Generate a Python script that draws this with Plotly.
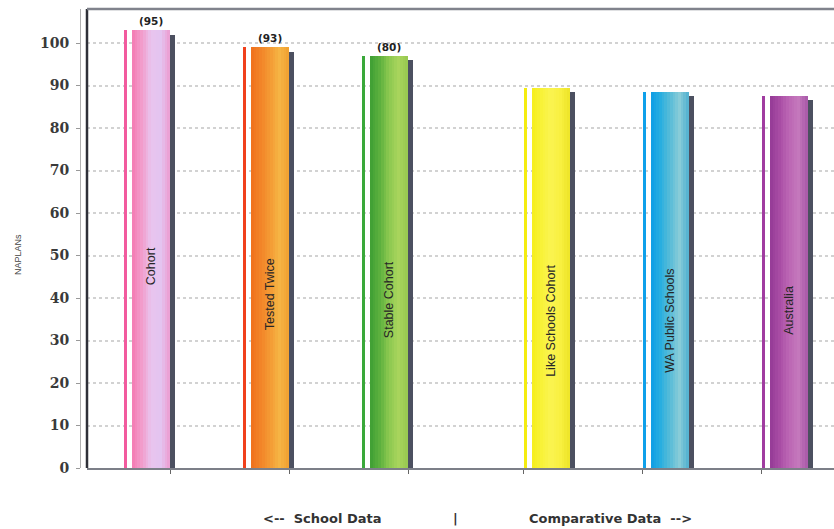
import plotly.graph_objects as go

# NAPLAN cohort comparison data
categories = ["Cohort", "Tested Twice", "Stable Cohort",
              "Like Schools Cohort", "WA Public Schools", "Australia"]
naplan_values = [103, 99, 97, 89.5, 88.5, 87.5]
student_counts = [95, 93, 80, None, None, None]
y_ticks = [0, 10, 20, 30, 40, 50, 60, 70, 80, 90, 100]

# --- styling -------------------------------------------------------------
edge_colors = ["#f25a9e", "#f0401c", "#3aa83a", "#f4ec10", "#0ea0ea", "#a03ca0"]
gradient_stops = [
    ["#f47ab2", "#f29ccb", "#e9c4ee", "#e4c4f0", "#ec9cd0"],
    ["#f0701c", "#f28428", "#f49a34", "#f6b444", "#f0a030"],
    ["#3e9e34", "#5cb03e", "#8cc850", "#a8d45c", "#98c850"],
    ["#f6ee1c", "#f8f238", "#faf450", "#f8f040", "#eee428"],
    ["#0e9ee6", "#28aee0", "#58bcd8", "#88ccd8", "#50b0d0"],
    ["#943a96", "#a84ca4", "#bc66b4", "#c478bc", "#a858a8"],
]
shadow_color = "#4c5060"
label_mid = [47.5, 40.9, 39.5, 34.6, 34.6, 37.2]   # vertical centre of in-bar text

GAP = 0.36          # extra space between school and comparative groups
slots = [i + (GAP if i >= 3 else 0) for i in range(len(categories))]

EDGE_C, EDGE_W = 0.0126, 0.025
BODY_L, BODY_R = 0.067, 0.387
SHADOW_C, SHADOW_W = 0.408, 0.042
N_STRIPS = 14


def hex_rgb(h):
    h = h.lstrip("#")
    return [int(h[i:i + 2], 16) for i in (0, 2, 4)]


def blend(stops, t):
    seg = t * (len(stops) - 1)
    i = min(int(seg), len(stops) - 2)
    f = seg - i
    a, b = hex_rgb(stops[i]), hex_rgb(stops[i + 1])
    return "rgb(%d,%d,%d)" % tuple(round(a[k] + (b[k] - a[k]) * f) for k in range(3))


fig = go.Figure()

# thin highlight strip on the left of each bar
fig.add_trace(go.Bar(
    x=[s + EDGE_C for s in slots], y=naplan_values, width=EDGE_W,
    marker=dict(color=edge_colors, line=dict(width=0)), hoverinfo="skip",
    showlegend=False))

# gradient body made from narrow vertical strips
strip_w = (BODY_R - BODY_L) / N_STRIPS
for k in range(N_STRIPS):
    t = (k + 0.5) / N_STRIPS
    fig.add_trace(go.Bar(
        x=[s + BODY_L + strip_w * (k + 0.5) for s in slots], y=naplan_values,
        width=strip_w * 1.04,
        marker=dict(color=[blend(st, t) for st in gradient_stops], line=dict(width=0)),
        hoverinfo="skip", showlegend=False))

# dark side face
fig.add_trace(go.Bar(
    x=[s + SHADOW_C for s in slots], y=[v - 1.0 for v in naplan_values],
    width=SHADOW_W, marker=dict(color=shadow_color, line=dict(width=0)),
    hoverinfo="skip", showlegend=False))

# category names written up the bars
for s, name, ym in zip(slots, categories, label_mid):
    fig.add_annotation(x=s + (BODY_L + BODY_R) / 2, y=ym, text=name, textangle=-90,
                       showarrow=False, font=dict(family="Liberation Sans", size=12.5,
                                                  color="#262626"))

# student counts above the school bars
for s, v, n in zip(slots, naplan_values, student_counts):
    if n is None:
        continue
    fig.add_annotation(x=s + (BODY_L + BODY_R) / 2, y=v, yshift=9, text="(%d)" % n,
                       showarrow=False, font=dict(family="DejaVu Sans", size=10.5,
                                                  color="#222", weight="bold"))

# axis tick marks along the base line
x_tick_pos = [s + (BODY_R if i < 3 else 0) for i, s in enumerate(slots)]

L_MARGIN, PLOT_W = 80, 754
x_dom0 = 7 / PLOT_W

fig.update_layout(
    width=834, height=529,
    margin=dict(l=L_MARGIN, r=0, t=9, b=61),
    paper_bgcolor="white", plot_bgcolor="white",
    barmode="overlay", bargap=0,
    xaxis=dict(domain=[x_dom0, 1], range=[-0.311, 5.966], showgrid=False,
               zeroline=False, showline=True, linecolor="#7c7f88", linewidth=2,
               tickmode="array", tickvals=x_tick_pos, ticktext=[""] * len(x_tick_pos),
               ticks="outside", ticklen=4, tickcolor="#666", tickwidth=1),
    yaxis=dict(range=[0, 108], anchor="free", position=0,
               tickmode="array", tickvals=y_ticks,
               showgrid=True, gridcolor="#d2d2d2", griddash="dot", gridwidth=1.5,
               zeroline=False, showline=True, linecolor="#b0b0b0", linewidth=1,
               ticks="outside", ticklen=4, tickcolor="#999",
               ticklabelstandoff=4,
               tickfont=dict(family="DejaVu Serif", size=14, color="#3a3a3a",
                             weight="bold")),
)

# chart frame: dark left edge, grey top edge
fig.add_shape(type="line", xref="paper", yref="paper", x0=x_dom0, x1=x_dom0,
              y0=0, y1=1, line=dict(color="#2e3038", width=2.5))
fig.add_shape(type="line", xref="paper", yref="paper", x0=x_dom0, x1=1,
              y0=1, y1=1, line=dict(color="#80838c", width=2.5))

# axis title and group captions
fig.add_annotation(xref="paper", yref="paper", x=(18 - L_MARGIN) / PLOT_W, y=0.464,
                   xanchor="center", yanchor="middle",
                   text="NAPLANs", textangle=-90, showarrow=False,
                   font=dict(family="Liberation Sans", size=9, color="#444"))
caption_font = dict(family="DejaVu Sans", size=13, color="#333", weight="bold")
for cx, txt in [(322, "&lt;--  School Data"), (455, "|"),
                (610, "Comparative Data  --&gt;")]:
    fig.add_annotation(xref="paper", yref="paper", x=(cx - L_MARGIN) / PLOT_W,
                       y=-0.111, xanchor="center", yanchor="middle",
                       text=txt, showarrow=False, font=caption_font)

fig.write_html("out.html")
